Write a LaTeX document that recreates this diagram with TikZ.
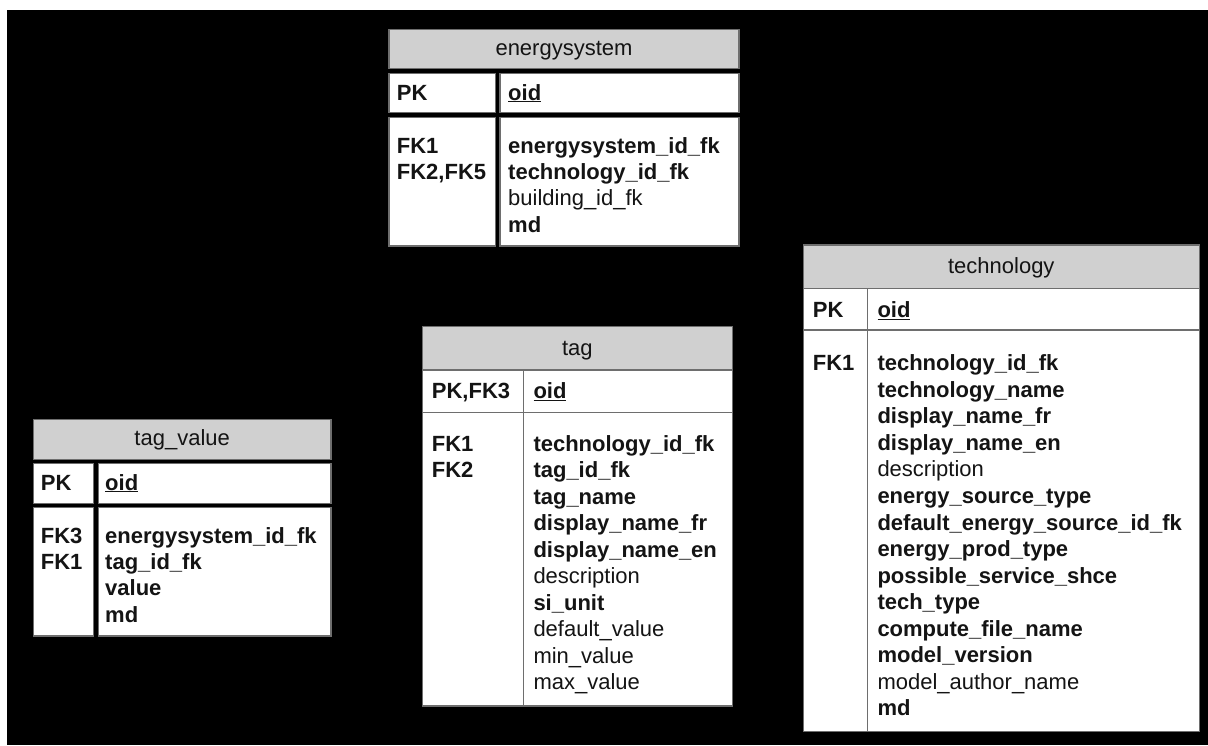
\documentclass[tikz,border=0pt]{standalone}
\usepackage{fontspec}
\setmainfont{Liberation Sans}
\definecolor{headgray}{HTML}{D0D0D0}
\definecolor{rulegray}{HTML}{6E6E6E}
\definecolor{ink}{HTML}{141414}
\begin{document}
\begin{tikzpicture}[x=1pt,y=-1pt,
  cellbox/.style={draw=rulegray, fill=white, line width=1.1pt},
  headbox/.style={draw=rulegray, fill=headgray, line width=1.1pt},
  txt/.style={anchor=base west, inner sep=0pt, text=ink, font=\fontsize{22}{26.5}\selectfont},
  ttl/.style={anchor=base, inner sep=0pt, text=ink, font=\fontsize{22}{26.5}\selectfont}]
\useasboundingbox (0,0) rectangle (1208,745);
\fill[white] (0,0) rectangle (1208,745);
\fill[black] (7,10) rectangle (1208,745);

% ---------- energysystem ----------
\draw[headbox] (389,29.3) rectangle (739,68.3);
\node[ttl] (es-title) at (564,55) {energysystem};
\draw[cellbox] (389,73.3) rectangle (495.7,112.7);
\draw[cellbox] (500,73.3) rectangle (739,112.7);
\draw[cellbox] (389,117.3) rectangle (495.7,246);
\draw[cellbox] (500,117.3) rectangle (739,246);
\node[txt] (es-pk) at (396.7,100) {\textbf{PK}};
\node[txt] (es-oid) at (508,100) {\underline{\textbf{oid}}};
\foreach \t [count=\i from 0] in {{\textbf{FK1}},{\textbf{FK2,FK5}}}
  \node[txt] (es-k\i) at (396.7,153.3+26.3*\i) {\t};
\foreach \t [count=\i from 0] in {{\textbf{energysystem\_id\_fk}},{\textbf{technology\_id\_fk}},{building\_id\_fk},{\textbf{md}}}
  \node[txt] (es-f\i) at (508,153.3+26.3*\i) {\t};

% ---------- tag_value ----------
\draw[headbox] (33.3,419.3) rectangle (331,459.3);
\node[ttl] (tv-title) at (182.2,445) {tag\_value};
\draw[cellbox] (33.3,463.3) rectangle (93.5,503.3);
\draw[cellbox] (98.3,463.3) rectangle (331,503.3);
\draw[cellbox] (33.3,507.7) rectangle (93.5,636);
\draw[cellbox] (98.3,507.7) rectangle (331,636);
\node[txt] (tv-pk) at (40.7,490) {\textbf{PK}};
\node[txt] (tv-oid) at (105,490) {\underline{\textbf{oid}}};
\foreach \t [count=\i from 0] in {{\textbf{FK3}},{\textbf{FK1}}}
  \node[txt] (tv-k\i) at (40.7,543.3+26.3*\i) {\t};
\foreach \t [count=\i from 0] in {{\textbf{energysystem\_id\_fk}},{\textbf{tag\_id\_fk}},{\textbf{value}},{\textbf{md}}}
  \node[txt] (tv-f\i) at (105,543.3+26.3*\i) {\t};

% ---------- tag ----------
\draw[headbox] (422.3,326.7) rectangle (732.3,370);
\node[ttl] (tg-title) at (577.3,355) {tag};
\draw[cellbox] (422.3,370) rectangle (732.3,412.3);
\draw[cellbox] (422.3,412.3) rectangle (732.3,706);
\draw[rulegray, line width=1.1pt] (523.3,370) -- (523.3,706);
\node[txt] (tg-pk) at (431.7,398.3) {\textbf{PK,FK3}};
\node[txt] (tg-oid) at (533.3,398.3) {\underline{\textbf{oid}}};
\foreach \t [count=\i from 0] in {{\textbf{FK1}},{\textbf{FK2}}}
  \node[txt] (tg-k\i) at (431.7,451+26.5*\i) {\t};
\foreach \t [count=\i from 0] in {{\textbf{technology\_id\_fk}},{\textbf{tag\_id\_fk}},{\textbf{tag\_name}},{\textbf{display\_name\_fr}},{\textbf{display\_name\_en}},{description},{\textbf{si\_unit}},{default\_value},{min\_value},{max\_value}}
  \node[txt] (tg-f\i) at (533.3,451+26.5*\i) {\t};

% ---------- technology ----------
\draw[headbox] (803.3,245) rectangle (1199.3,288.3);
\node[ttl] (te-title) at (1001.3,273) {technology};
\draw[cellbox] (803.3,288.3) rectangle (1199.3,330);
\draw[cellbox] (803.3,330) rectangle (1199.3,731.7);
\draw[rulegray, line width=1.1pt] (867.7,288.3) -- (867.7,731.7);
\node[txt] (te-pk) at (812.7,317.3) {\textbf{PK}};
\node[txt] (te-oid) at (877.3,317.3) {\underline{\textbf{oid}}};
\node[txt] (te-k0) at (812.7,370.7) {\textbf{FK1}};
\foreach \t [count=\i from 0] in {{\textbf{technology\_id\_fk}},{\textbf{technology\_name}},{\textbf{display\_name\_fr}},{\textbf{display\_name\_en}},{description},{\textbf{energy\_source\_type}},{\textbf{default\_energy\_source\_id\_fk}},{\textbf{energy\_prod\_type}},{\textbf{possible\_service\_shce}},{\textbf{tech\_type}},{\textbf{compute\_file\_name}},{\textbf{model\_version}},{model\_author\_name},{\textbf{md}}}
  \node[txt] (te-f\i) at (877.3,370.7+26.56*\i) {\t};
\end{tikzpicture}
\end{document}
